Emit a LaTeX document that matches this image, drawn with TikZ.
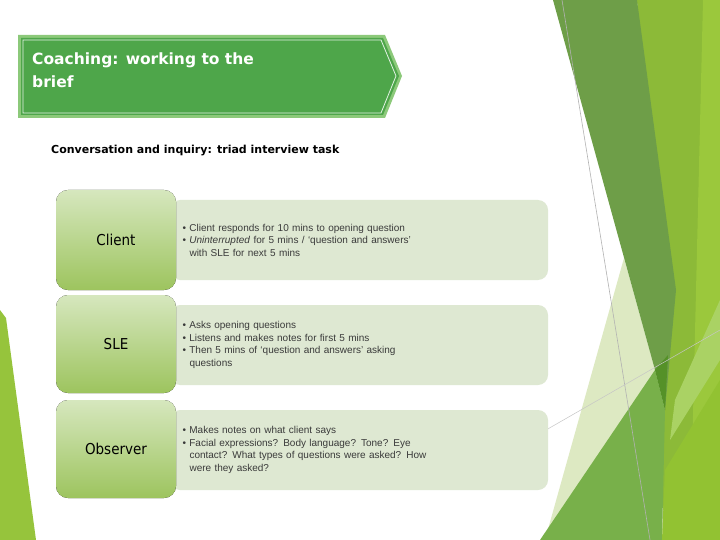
\documentclass[tikz,border=0pt]{standalone}
\usepackage{fontspec}
\setmainfont{Liberation Sans}
\newfontfamily\dv{DejaVu Sans}
\newfontfamily\dvc{DejaVu Sans Condensed}
\definecolor{tgreen}{HTML}{4EA64A}
\definecolor{tborder}{HTML}{8CC97A}
\definecolor{rbox}{HTML}{DEE8D2}
\definecolor{gtop}{HTML}{D6E7BE}
\definecolor{gbot}{HTML}{9DC45E}
\definecolor{txt}{HTML}{3A3A3A}
\tikzset{
  role/.style={rounded corners=12pt, top color=gtop, bottom color=gbot, draw=none},
  desc/.style={rounded corners=10pt, fill=rbox, draw=none},
  rolelbl/.style={font=\dvc\fontsize{15}{18}\selectfont, text=black},
  desclbl/.style={font=\fontsize{10}{12.5}\selectfont, text=txt, align=left, anchor=west, text width=350pt}
}
\begin{document}
\begin{tikzpicture}[x=1pt,y=-1pt]
\useasboundingbox (0,0) rectangle (720,540);
\fill[white] (0,0) rectangle (720,540);
% right decoration
\fill[color={rgb,255:red,140;green,186;blue,56}] (637,0) -- (720,0) -- (720,540) -- (640,540) -- (665,410) -- cycle;
\fill[color={rgb,255:red,155;green,200;blue,60}] (703,0) -- (720,0) -- (720,540) -- (690,540) -- cycle;
\fill[color={rgb,255:red,170;green,210;blue,100}] (720,300) -- (720,360) -- (670,440) -- (675,400) -- cycle;
\fill[color={rgb,255:red,221;green,233;blue,194}] (545,540) -- (624,258) -- (655,370) -- (665,540) -- cycle;
\fill[color={rgb,255:red,110;green,158;blue,72}] (553,0) -- (637,0) -- (676,290) -- (665,410) -- (655,370) -- cycle;
\fill[color={rgb,255:red,120;green,176;blue,74}] (540,540) -- (655,370) -- (665,410) -- (662,540) -- cycle;
\fill[color={rgb,255:red,85;green,145;blue,40}] (655,370) -- (668,355) -- (665,410) -- cycle;
\fill[color={rgb,255:red,146;green,194;blue,50}] (662,540) -- (665,470) -- (720,380) -- (720,540) -- cycle;
\draw[gray!60, line width=0.6pt] (562,0) -- (650,540);
\draw[gray!45, line width=0.5pt] (546,430) -- (720,330);
% left decoration
\fill[color={rgb,255:red,150;green,196;blue,60}] (0,310) -- (6,318) -- (36,540) -- (0,540) -- cycle;
% title
\fill[tborder] (18,35) -- (385,35) -- (402,76) -- (385,118) -- (18,118) -- cycle;
\fill[tgreen] (21,38) -- (383,38) -- (399,76) -- (383,115) -- (21,115) -- cycle;
\draw[white!85!tgreen, line width=0.8pt] (23,40) -- (381,40) -- (396,76) -- (381,113) -- (23,113) -- cycle;
\node[font=\dv\bfseries\fontsize{15.5}{22.5}\selectfont, text=white, align=left, anchor=north west, inner sep=0] (title) at (32,53) {Coaching: working to the\\brief};
\node[font=\dv\bfseries\fontsize{11}{13}\selectfont, anchor=west, inner sep=0] (sub) at (51,151) {Conversation and inquiry: triad interview task};
% rows
\fill[desc] (170,200) rectangle (548,280);
\fill[desc] (170,305) rectangle (548,385);
\fill[desc] (170,410) rectangle (548,490);
\fill[role] (56,190) rectangle (176,290);
\fill[role] (56,295) rectangle (176,393);
\fill[role] (56,400) rectangle (176,498);
\node[rolelbl] (client) at (116,240) {Client};
\node[rolelbl] (sle) at (116,344) {SLE};
\node[rolelbl] (obs) at (116,449) {Observer};
\node[desclbl] (d1) at (179,240) {• Client responds for 10 mins to opening question\\• \textit{Uninterrupted} for 5 mins / ‘question and answers’\\\hspace*{7pt}with SLE for next 5 mins};
\node[desclbl] (d2) at (179,345) {• Asks opening questions\\• Listens and makes notes for first 5 mins\\• Then 5 mins of ‘question and answers’ asking\\\hspace*{7pt}questions};
\node[desclbl] (d3) at (179,450) {• Makes notes on what client says\\• Facial expressions? Body language? Tone? Eye\\\hspace*{7pt}contact? What types of questions were asked? How\\\hspace*{7pt}were they asked?};
\end{tikzpicture}
\end{document}
